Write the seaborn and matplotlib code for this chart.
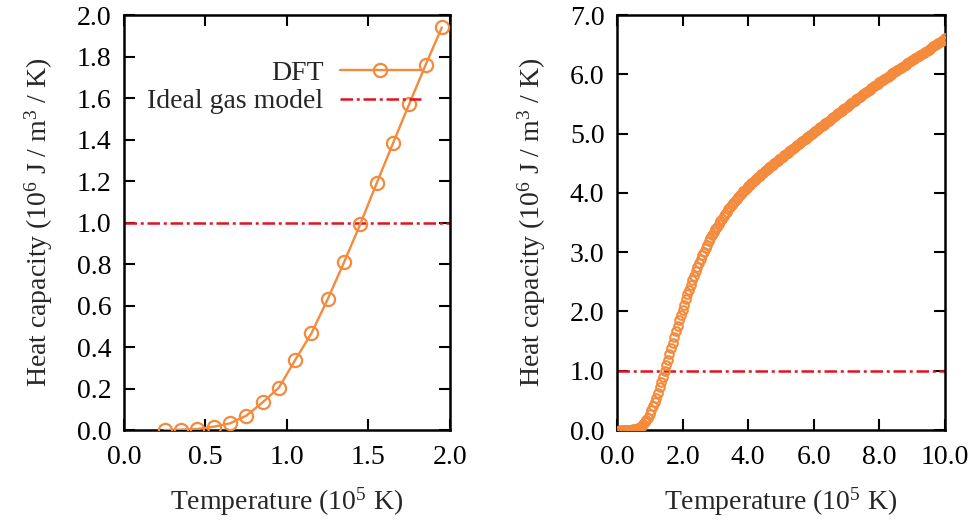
import matplotlib

matplotlib.use("Agg")

import matplotlib.pyplot as plt
import numpy as np
import pandas as pd
import seaborn as sns
from matplotlib.ticker import FormatStrFormatter, MultipleLocator

# left panel: DFT heat capacity, 10^5 K vs 10^6 J/m^3/K
LEFT_T = [0.25, 0.35, 0.45, 0.55, 0.65, 0.75, 0.85, 0.95, 1.05, 1.15,
          1.25, 1.35, 1.45, 1.55, 1.65, 1.75, 1.85, 1.95]
LEFT_CP = [0.000, 0.002, 0.005, 0.016, 0.032, 0.069, 0.133, 0.204, 0.337, 0.466,
           0.631, 0.808, 0.993, 1.189, 1.381, 1.571, 1.759, 1.940]

# right panel: dense DFT curve up to 10^6 K
RIGHT_T = [round(0.10 + 0.05 * i, 2) for i in range(199)]
RIGHT_CP = [
    0.000, 0.000, 0.000, 0.000, 0.001, 0.002, 0.003, 0.005, 0.009, 0.016,
    0.023, 0.032, 0.048, 0.069, 0.098, 0.133, 0.166, 0.204, 0.268, 0.337,
    0.400, 0.466, 0.546, 0.631, 0.718, 0.808, 0.900, 0.993, 1.090, 1.189,
    1.285, 1.381, 1.476, 1.571, 1.665, 1.759, 1.850, 1.940, 2.030, 2.117,
    2.203, 2.287, 2.370, 2.450, 2.528, 2.604, 2.677, 2.748, 2.817, 2.884,
    2.949, 3.011, 3.071, 3.129, 3.184, 3.237, 3.288, 3.337, 3.384, 3.431,
    3.477, 3.521, 3.564, 3.606, 3.647, 3.686, 3.725, 3.762, 3.799, 3.834,
    3.869, 3.902, 3.935, 3.966, 3.997, 4.027, 4.056, 4.084, 4.111, 4.138,
    4.165, 4.191, 4.216, 4.241, 4.266, 4.290, 4.314, 4.338, 4.362, 4.386,
    4.409, 4.432, 4.455, 4.478, 4.501, 4.523, 4.545, 4.567, 4.589, 4.611,
    4.633, 4.655, 4.677, 4.699, 4.721, 4.743, 4.765, 4.787, 4.809, 4.831,
    4.853, 4.875, 4.896, 4.917, 4.938, 4.959, 4.980, 5.001, 5.022, 5.044,
    5.065, 5.087, 5.108, 5.130, 5.151, 5.173, 5.194, 5.216, 5.237, 5.259,
    5.280, 5.302, 5.323, 5.345, 5.366, 5.388, 5.409, 5.431, 5.452, 5.473,
    5.494, 5.515, 5.536, 5.557, 5.578, 5.599, 5.620, 5.641, 5.662, 5.682,
    5.702, 5.722, 5.742, 5.762, 5.782, 5.802, 5.822, 5.842, 5.862, 5.881,
    5.900, 5.919, 5.938, 5.957, 5.976, 5.995, 6.014, 6.033, 6.052, 6.071,
    6.090, 6.109, 6.128, 6.147, 6.165, 6.183, 6.201, 6.219, 6.237, 6.255,
    6.273, 6.291, 6.309, 6.327, 6.345, 6.363, 6.381, 6.399, 6.417, 6.435,
    6.453, 6.471, 6.489, 6.507, 6.524, 6.541, 6.558, 6.575, 6.610,
]

IDEAL_GAS_CP = 1.0

ORANGE = "#f48a3c"
RED = "#e3141e"
FS = 20

sns.set_theme(style="ticks")
plt.rcParams["font.family"] = ["Liberation Serif", "DejaVu Serif"]
plt.rcParams["mathtext.fontset"] = "custom"
plt.rcParams["mathtext.rm"] = "Liberation Serif"
plt.rcParams["mathtext.it"] = "Liberation Serif:italic"

left = pd.DataFrame({"T": LEFT_T, "Cp": LEFT_CP})
right = pd.DataFrame({"T": RIGHT_T, "Cp": RIGHT_CP})

fig = plt.figure(figsize=(9.71, 5.22), dpi=100)
ax1 = fig.add_axes([0.1277, 0.1762, 0.3357, 0.795])
ax2 = fig.add_axes([0.6354, 0.1762, 0.3378, 0.795])

dashdot = (0, (5, 1.5, 1.2, 1.5))

sns.lineplot(data=left, x="T", y="Cp", ax=ax1, color=ORANGE, lw=1.7,
             marker="o", markersize=9.5, markerfacecolor="none",
             markeredgecolor=ORANGE, markeredgewidth=1.6, label="DFT", zorder=3)
ax1.axhline(IDEAL_GAS_CP, color=RED, lw=1.8, ls=dashdot, label="Ideal gas model", zorder=2)

sns.lineplot(data=right, x="T", y="Cp", ax=ax2, color=ORANGE, ls="",
             marker="o", markersize=6.2, markerfacecolor="none",
             markeredgecolor=ORANGE, markeredgewidth=1.5, zorder=3)
ax2.axhline(IDEAL_GAS_CP, color=RED, lw=1.8, ls=dashdot, zorder=2)

ylabel = r"Heat capacity (10$^{6}$ J / m$^{3}$ / K)"
xlabel = r"Temperature (10$^{5}$ K)"

for ax, xmax, xstep, ymax, ystep in [(ax1, 2.0, 0.5, 2.0, 0.2), (ax2, 10.0, 2.0, 7.0, 1.0)]:
    ax.set_xlim(0, xmax)
    ax.set_ylim(0, ymax)
    ax.xaxis.set_major_locator(MultipleLocator(xstep))
    ax.yaxis.set_major_locator(MultipleLocator(ystep))
    ax.xaxis.set_major_formatter(FormatStrFormatter("%.1f"))
    ax.yaxis.set_major_formatter(FormatStrFormatter("%.1f"))
    ax.tick_params(direction="in", length=8, width=1.5, top=True, right=True,
                   labelsize=FS, colors="black")
    ax.tick_params(axis="x", pad=11)
    ax.tick_params(axis="y", pad=9)
    for sp in ax.spines.values():
        sp.set_visible(True)
        sp.set_linewidth(1.8)
        sp.set_color("black")
    ax.set_xlabel(xlabel, fontsize=FS, labelpad=11)
    ax.set_ylabel(ylabel, fontsize=FS, labelpad=16)

leg = ax1.legend(loc="upper right", bbox_to_anchor=(0.91, 0.89), frameon=False,
                 markerfirst=False, fontsize=FS, handlelength=2.9,
                 handletextpad=0.6, labelspacing=0.1, borderpad=0, borderaxespad=0)

fig.savefig("out.png", dpi=100)
